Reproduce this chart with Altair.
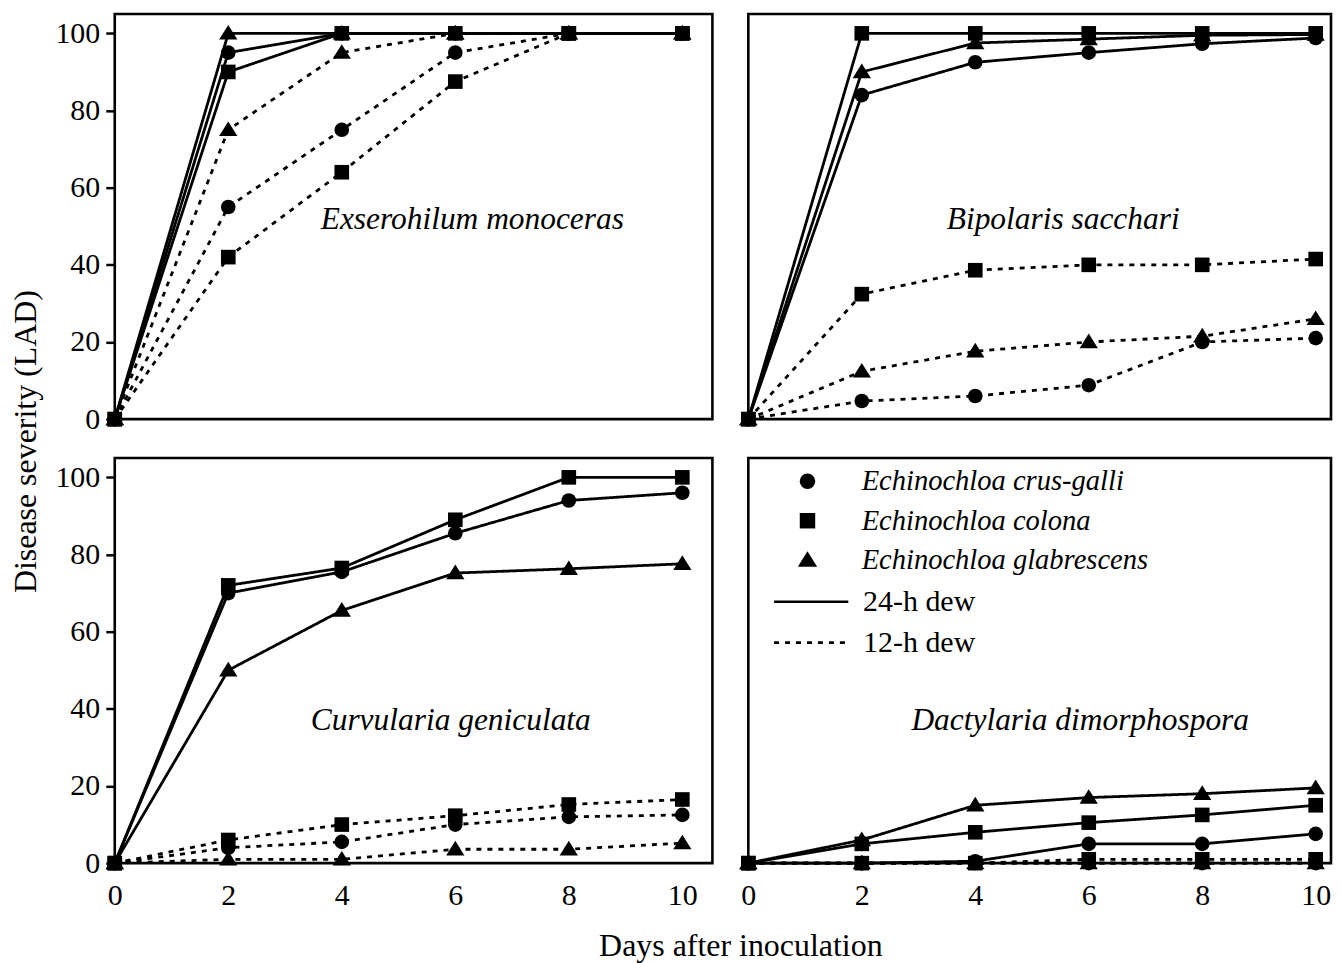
import altair as alt
import pandas as pd

days = [0, 2, 4, 6, 8, 10]
species = ["Echinochloa crus-galli", "Echinochloa colona", "Echinochloa glabrescens"]
dews = ["24-h dew", "12-h dew"]
panels = ["Exserohilum monoceras", "Bipolaris sacchari",
          "Curvularia geniculata", "Dactylaria dimorphospora"]

# Exserohilum monoceras
em_cg_24 = [0, 95, 100, 100, 100, 100]
em_co_24 = [0, 90, 100, 100, 100, 100]
em_gl_24 = [0, 100, 100, 100, 100, 100]
em_cg_12 = [0, 55, 75, 95, 100, 100]
em_co_12 = [0, 42, 64, 87.5, 100, 100]
em_gl_12 = [0, 75, 95, 100, 100, 100]
# Bipolaris sacchari
bs_cg_24 = [0, 84, 92.5, 95, 97.3, 98.8]
bs_co_24 = [0, 100, 100, 100, 100, 100]
bs_gl_24 = [0, 90, 97.5, 98.5, 99.5, 99.7]
bs_cg_12 = [0, 4.7, 6, 8.8, 20, 21]
bs_co_12 = [0, 32.4, 38.6, 40, 40, 41.5]
bs_gl_12 = [0, 12.4, 17.6, 20, 21.5, 26]
# Curvularia geniculata
cu_cg_24 = [0, 70, 75.5, 85.5, 94, 96]
cu_co_24 = [0, 72, 76.5, 89, 100, 100]
cu_gl_24 = [0, 50, 65.5, 75.2, 76.3, 77.6]
cu_cg_12 = [0, 4, 5.5, 10, 12, 12.5]
cu_co_12 = [0, 6, 10, 12.3, 15.2, 16.5]
cu_gl_12 = [0, 1, 1, 3.6, 3.6, 5.2]
# Dactylaria dimorphospora
da_cg_24 = [0, 0, 0.5, 5, 5, 7.6]
da_co_24 = [0, 5, 8, 10.5, 12.5, 15]
da_gl_24 = [0, 6, 15, 17, 18, 19.5]
da_cg_12 = [0, 0, 0, 0, 0, 0]
da_co_12 = [0, 0, 0, 1, 1, 1]
da_gl_12 = [0, 0, 0, 0, 0, 0]

series = {
    panels[0]: [[em_cg_24, em_cg_12], [em_co_24, em_co_12], [em_gl_24, em_gl_12]],
    panels[1]: [[bs_cg_24, bs_cg_12], [bs_co_24, bs_co_12], [bs_gl_24, bs_gl_12]],
    panels[2]: [[cu_cg_24, cu_cg_12], [cu_co_24, cu_co_12], [cu_gl_24, cu_gl_12]],
    panels[3]: [[da_cg_24, da_cg_12], [da_co_24, da_co_12], [da_gl_24, da_gl_12]],
}

label_x = [6.3, 5.55, 5.92, 5.85]
label_y = [51.5, 51.5, 36.8, 36.8]

rows = []
for p in panels:
    for si, sp in enumerate(species):
        for di, dw in enumerate(dews):
            for d, v in zip(days, series[p][si][di]):
                rows.append({"panel": p, "species": sp, "dew": dw, "day": d, "value": v})
df = pd.DataFrame(rows)

FONT = "Liberation Serif"
XMAX = [10.53, 10.27, 10.53, 10.27]
W = [599, 584, 599, 584]
H = 406
TRIANGLE = "M-1.25,0.85L1.25,0.85L0,-1.15Z"


def panel(i, show_x, show_y, legend):
    name = panels[i]
    d = df[df.panel == name]
    if show_x:
        xaxis = alt.Axis(values=days, ticks=False, domain=False, grid=False,
                         labelPadding=17, labelFlush=False,
                         title="Days after inoculation" if i == 2 else None,
                         titleFont=FONT, titleFontSize=32, titleFontWeight="normal",
                         titleColor="black", titleX=627, titleY=83,
                         titleAlign="center", titleBaseline="middle")
    else:
        xaxis = None
    if show_y:
        yaxis = alt.Axis(values=[0, 20, 40, 60, 80, 100], ticks=True, tickSize=9, tickWidth=2.5,
                         tickColor="black", domain=False, grid=False, labelPadding=6,
                         title="Disease severity (LAD)" if i == 0 else None,
                         titleFont=FONT, titleFontSize=32, titleFontWeight="normal",
                         titleColor="black", titleX=-89, titleY=428, titleAngle=270,
                         titleAlign="center", titleBaseline="middle")
    else:
        yaxis = None
    x = alt.X("day:Q", scale=alt.Scale(domain=[0, XMAX[i]], nice=False, zero=True), axis=xaxis)
    y = alt.Y("value:Q", scale=alt.Scale(domain=[0, 105], nice=False, zero=True), axis=yaxis)

    dash_legend = alt.Legend(
        title=None, orient="none", legendX=48, legendY=129,
        symbolType="M-5.4,0H5.4", symbolSize=190, symbolStrokeWidth=2.6,
        symbolStrokeColor="black", labelOffset=37, labelFont=FONT, labelFontSize=30,
        labelColor="black", rowPadding=11, labelLimit=400,
    ) if legend else None
    shape_legend = alt.Legend(
        title=None, orient="none", legendX=45, legendY=9,
        symbolSize=240, symbolFillColor="black", symbolStrokeColor="black",
        symbolStrokeWidth=0, labelOffset=40, labelFont=FONT, labelFontSize=28.6,
        labelFontStyle="italic", labelColor="black", rowPadding=10.5, labelLimit=400,
    ) if legend else None

    lines = alt.Chart(d).mark_line(color="black", strokeWidth=2.8).encode(
        x=x, y=y, detail="species:N",
        strokeDash=alt.StrokeDash("dew:N", scale=alt.Scale(domain=dews, range=[[1, 0], [5, 6]]),
                                  legend=dash_legend),
    )
    pts = alt.Chart(d).mark_point(filled=True, color="black", size=215, opacity=1).encode(
        x=x, y=y,
        shape=alt.Shape("species:N", scale=alt.Scale(domain=species,
                                                     range=["circle", "square", TRIANGLE]),
                        legend=shape_legend),
    )
    lab = alt.Chart(pd.DataFrame({"day": [label_x[i]], "value": [label_y[i]], "t": [name]})).mark_text(
        font=FONT, fontStyle="italic", fontSize=31.5, color="black"
    ).encode(x=x, y=y, text="t:N")
    return alt.layer(lines, pts, lab).properties(width=W[i], height=H)


chart = alt.concat(
    panel(0, False, True, False),
    panel(1, False, False, False),
    panel(2, True, True, False),
    panel(3, True, False, True),
    columns=2,
    spacing={"row": 39, "column": 36},
    bounds="flush",
).resolve_legend(shape="independent", strokeDash="independent").properties(
    padding={"left": 0, "top": 3, "right": 0, "bottom": 0},
).configure_view(stroke="black", strokeWidth=2.6).configure_axis(
    labelFont=FONT, labelFontSize=30, labelColor="black"
)

chart.save("out.html", embed_options={"renderer": "svg", "actions": False})
